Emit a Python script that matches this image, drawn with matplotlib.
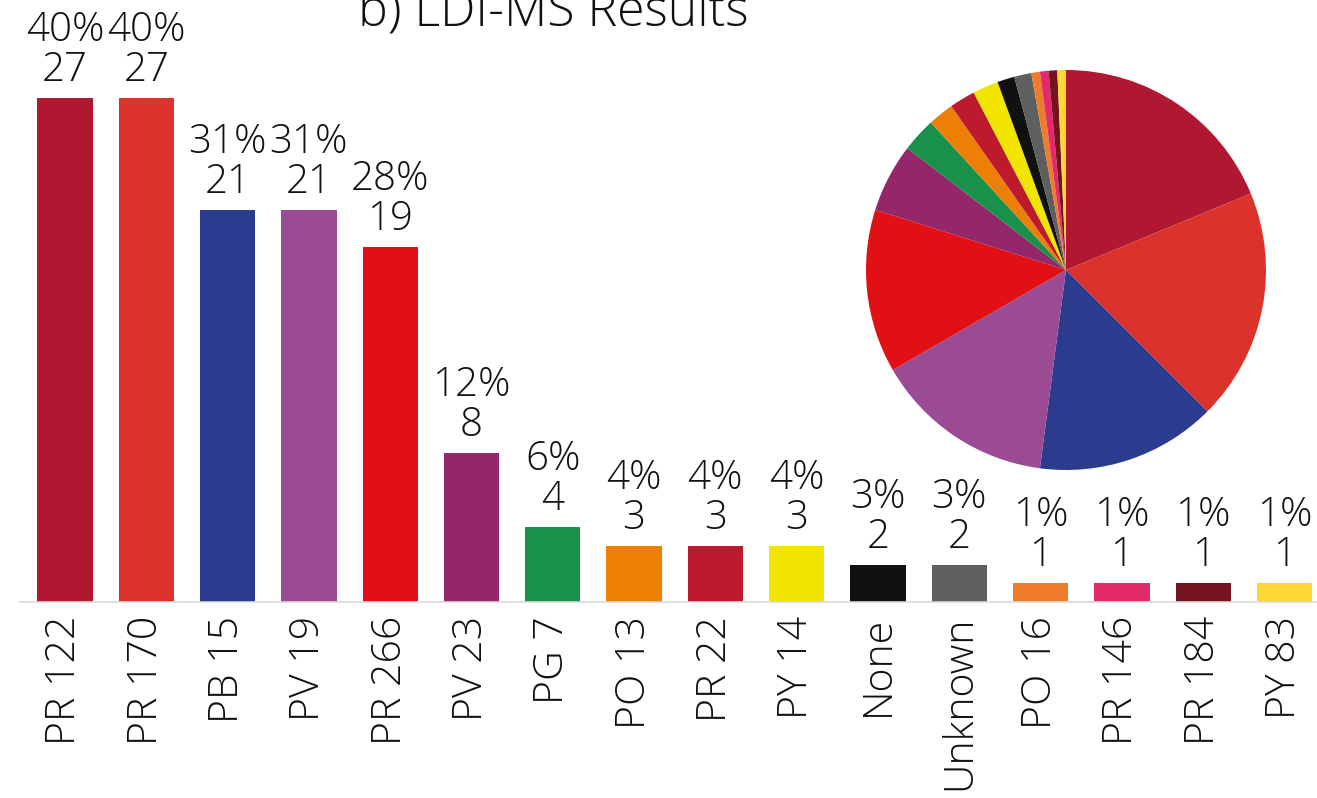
# LDI-MS pigment identification: counts per pigment with share of samples
import numpy as np
import matplotlib.pyplot as plt

plt.rcParams['font.family'] = ['Open Sans', 'DejaVu Sans']
plt.rcParams['font.weight'] = 'light'

# Data
pigments = ['PR 122', 'PR 170', 'PB 15', 'PV 19', 'PR 266', 'PV 23', 'PG 7',
            'PO 13', 'PR 22', 'PY 14', 'None', 'Unknown', 'PO 16', 'PR 146',
            'PR 184', 'PY 83']
counts = [27, 27, 21, 21, 19, 8, 4, 3, 3, 3, 2, 2, 1, 1, 1, 1]
n_samples = 67
colors = ['#B01731', '#DC322C', '#2B3C8F', '#9B4A94', '#E01014', '#93276A',
          '#1A914A', '#EE7F06', '#BE1A2E', '#F2E500', '#111111', '#5E5F5F',
          '#EE7C2A', '#E22A6A', '#74141E', '#FDD835']

W, H = 1317, 798
fig = plt.figure(figsize=(W / 100, H / 100), dpi=100)

# Bar chart axes (placed in pixel terms)
left, right, base, top = 20, 1317, 602, 0
ax = fig.add_axes([left / W, (H - base) / H, (right - left) / W, (base - top) / H])
x = np.arange(len(counts))
ax.bar(x, counts, width=0.68, color=colors, zorder=2)
ax.set_xlim(-0.553, 15.40)
ax.set_ylim(0, 32.25)

for xi, c in zip(x, counts):
    pct = round(100 * c / n_samples)
    ax.annotate(f'{pct}%\n{c}', (xi, c), xytext=(0, 5), textcoords='offset points',
                ha='center', va='bottom', fontsize=29, linespacing=0.97,
                color='#111111', annotation_clip=False)

ax.set_xticks(x)
ax.set_xticklabels(pigments, rotation=90, fontsize=29.5, color='#111111')
ax.tick_params(axis='x', length=0, pad=10)
ax.set_yticks([])
for side in ['left', 'right', 'top']:
    ax.spines[side].set_visible(False)
ax.spines['bottom'].set_color('#d9d9d9')
ax.spines['bottom'].set_linewidth(1.2)
ax.patch.set_alpha(0)

# Pie chart inset
pax = fig.add_axes([866 / W, (H - 470) / H, 400 / W, 400 / H])
pax.pie(counts, colors=colors, startangle=90, counterclock=False,
        wedgeprops=dict(linewidth=0))
pax.set_xlim(-1, 1)
pax.set_ylim(-1, 1)
pax.set_aspect('equal')

fig.text(553 / W, 1 - 27 / H, 'b) LDI-MS Results', ha='center', va='baseline',
         fontsize=36, color='#111111')

fig.savefig('out.png', dpi=100)
